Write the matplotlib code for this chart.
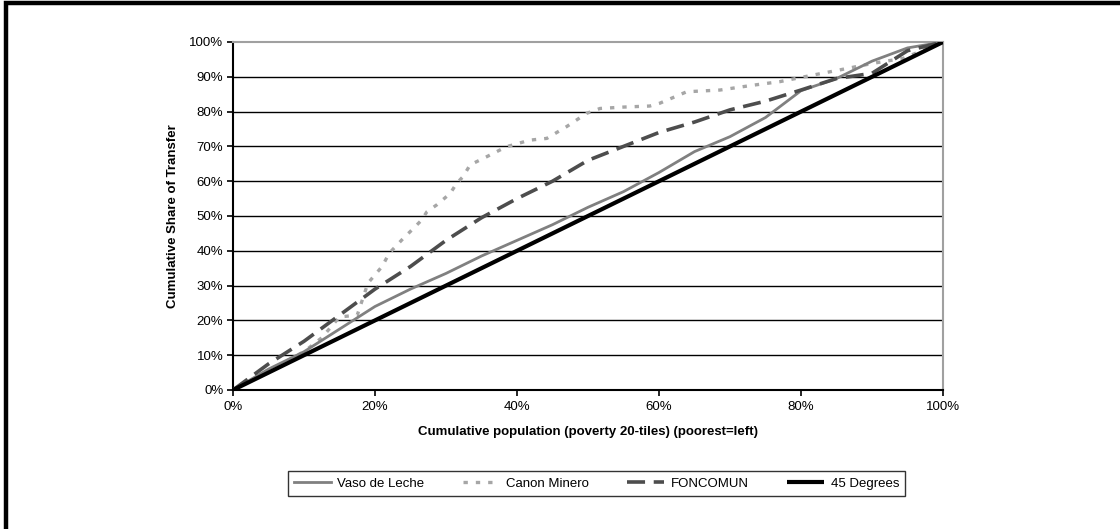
import matplotlib
matplotlib.use("Agg")
import matplotlib.pyplot as plt
from matplotlib.ticker import PercentFormatter, MultipleLocator
from matplotlib.patches import Rectangle

plt.rcParams['font.family'] = ['Liberation Sans', 'DejaVu Sans']

# Cumulative population share (poverty 20-tiles), in percent
pop_share = [0, 5, 10, 15, 20, 25, 30, 35, 40, 45, 50, 55, 60, 65, 70, 75, 80, 85, 90, 95, 100]

vaso_de_leche = [0, 6, 11, 17.5, 24, 29, 33.5, 38.5, 43, 47.5, 52.5, 57, 62.5, 68.5, 72.8,
                 78.3, 86, 89.5, 94.5, 98.3, 100]

foncomun = [0, 7.5, 14, 21.5, 29, 35.5, 43, 49.5, 55, 60, 66, 70, 74, 77, 80.5, 83,
            86.2, 89.5, 91, 97.5, 100]

degrees_45 = pop_share

# Canon Minero is traced on a finer population grid
canon_x = [0, 5, 10, 12.5, 15, 17.5, 19, 21, 22, 24, 25.2, 26.6, 27.3, 28.7, 30.6, 31.5,
           32.4, 33.4, 35.7, 38.5, 41.8, 44.2, 47, 49.8, 51.7, 55, 58.7, 60.1, 63.9,
           68.6, 73.3, 77, 81.7, 85.5, 90.2, 94.4, 100]
canon_minero = [0, 5.5, 11, 15, 21, 21.5, 30.7, 35.5, 39.3, 43.6, 46, 48.9, 51.2, 53.2,
                56.5, 59.4, 61.3, 64.7, 67, 69.9, 71.8, 72.3, 75.7, 79.5, 80.9, 81.3,
                81.6, 82.4, 85.7, 86.2, 87.6, 88.6, 90.5, 92, 93.9, 95.3, 100]

y_ticks = list(range(0, 101, 10))

fig = plt.figure(figsize=(11.2, 5.29), dpi=100)
ax = fig.add_axes([233 / 1120, 1 - 390 / 529, 710 / 1120, 348 / 529])

ax.plot(pop_share, vaso_de_leche, color='#808080', lw=2.0, label='Vaso de Leche',
        solid_joinstyle='round', zorder=4)
ax.plot(canon_x, canon_minero, color='#a6a6a6', lw=2.4, linestyle=(0, (1.3, 2.4)),
        label='Canon Minero', zorder=3)
ax.plot(pop_share, foncomun, color='#4d4d4d', lw=2.6, linestyle=(0, (5, 2.4)),
        label='FONCOMUN', zorder=5)
ax.plot(pop_share, degrees_45, color='black', lw=3.0, label='45 Degrees',
        solid_capstyle='butt', zorder=6)

ax.set_xlim(0, 100)
ax.set_ylim(0, 100)
ax.xaxis.set_major_locator(MultipleLocator(20))
ax.yaxis.set_major_locator(MultipleLocator(10))
ax.xaxis.set_major_formatter(PercentFormatter(100, decimals=0))
ax.yaxis.set_major_formatter(PercentFormatter(100, decimals=0))

for y in y_ticks[1:-1]:
    ax.axhline(y, color='black', lw=1.0, zorder=1)

ax.spines['top'].set_color('#a0a0a0')
ax.spines['right'].set_color('#a0a0a0')
ax.spines['top'].set_linewidth(1.5)
ax.spines['right'].set_linewidth(1.5)
ax.spines['left'].set_linewidth(1.5)
ax.spines['bottom'].set_linewidth(1.5)

ax.tick_params(axis='both', direction='out', length=4, width=1.2, labelsize=9.5,
               colors='black')
ax.tick_params(axis='x', pad=4)
ax.tick_params(axis='y', pad=3)

ax.set_xlabel('Cumulative population (poverty 20-tiles) (poorest=left)',
              fontsize=9.5, fontweight='bold', labelpad=9)
ax.set_ylabel('Cumulative Share of Transfer', fontsize=9.5, fontweight='bold',
              labelpad=7)

leg = fig.legend(loc='center', bbox_to_anchor=(596.5 / 1120, 1 - 483.5 / 529),
                 ncol=4, frameon=True, fancybox=False, fontsize=9.5,
                 handlelength=2.8, columnspacing=2.9, handletextpad=0.5,
                 borderpad=0.45, edgecolor='black')
leg.get_frame().set_linewidth(1.0)

# Outer frame of the chart area
fig.patches.append(Rectangle((5.5 / 1120, -0.05), 2.0, 1.05 - 2.5 / 529,
                             transform=fig.transFigure, fill=False,
                             edgecolor='black', lw=3.2, zorder=0))

fig.savefig('out.png', dpi=100)
